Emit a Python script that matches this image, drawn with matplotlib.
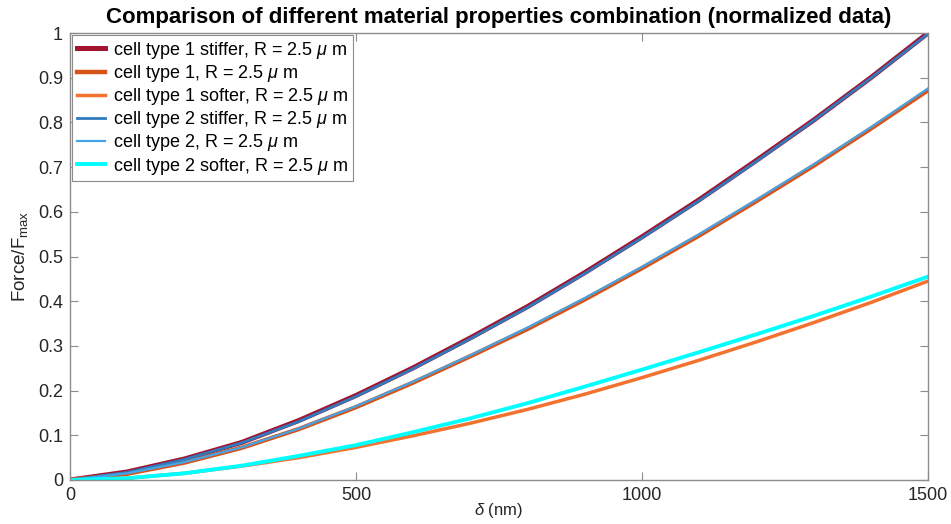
import matplotlib
matplotlib.use("Agg")
import matplotlib.pyplot as plt

plt.rcParams['font.family'] = ['Liberation Sans', 'DejaVu Sans']
plt.rcParams['mathtext.fontset'] = 'custom'
plt.rcParams['mathtext.rm'] = 'Liberation Sans'
plt.rcParams['mathtext.it'] = 'Liberation Sans:italic'
plt.rcParams['mathtext.bf'] = 'Liberation Sans:bold'

# Data
delta_nm = [0, 100, 200, 300, 400, 500, 600, 700, 800, 900, 1000, 1100, 1200, 1300, 1400, 1500]
t1_stiffer = [0, 0.018, 0.047, 0.084, 0.133, 0.189, 0.251, 0.318, 0.388, 0.464, 0.544, 0.627, 0.715, 0.805, 0.900, 1.000]
t1_normal = [0, 0.014, 0.039, 0.072, 0.114, 0.163, 0.218, 0.277, 0.338, 0.404, 0.474, 0.547, 0.624, 0.703, 0.786, 0.872]
t1_softer = [0, 0.004, 0.015, 0.031, 0.050, 0.073, 0.099, 0.127, 0.158, 0.192, 0.229, 0.268, 0.309, 0.352, 0.397, 0.445]
t2_stiffer = [0, 0.017, 0.046, 0.083, 0.131, 0.187, 0.249, 0.316, 0.386, 0.462, 0.542, 0.625, 0.713, 0.804, 0.899, 0.998]
t2_normal = [0, 0.015, 0.040, 0.073, 0.115, 0.165, 0.220, 0.279, 0.341, 0.407, 0.477, 0.550, 0.627, 0.706, 0.789, 0.876]
t2_softer = [0, 0.004, 0.015, 0.032, 0.054, 0.078, 0.107, 0.138, 0.172, 0.209, 0.247, 0.286, 0.326, 0.367, 0.410, 0.455]

labels = [
    r"cell type 1 stiffer, R = 2.5 $\mu$ m",
    r"cell type 1, R = 2.5 $\mu$ m",
    r"cell type 1 softer, R = 2.5 $\mu$ m",
    r"cell type 2 stiffer, R = 2.5 $\mu$ m",
    r"cell type 2, R = 2.5 $\mu$ m",
    r"cell type 2 softer, R = 2.5 $\mu$ m",
]
x_ticks = [0, 500, 1000, 1500]
y_ticks = [0, 0.1, 0.2, 0.3, 0.4, 0.5, 0.6, 0.7, 0.8, 0.9, 1]
y_tick_labels = ["0", "0.1", "0.2", "0.3", "0.4", "0.5", "0.6", "0.7", "0.8", "0.9", "1"]

series = [t1_stiffer, t1_normal, t1_softer, t2_stiffer, t2_normal, t2_softer]
colors = ['#A2142F', '#D95319', '#F4722F', '#2F7BBE', '#45A4E6', '#00FFFF']
widths = [3.6, 3.2, 2.5, 2.0, 1.6, 2.8]

fig = plt.figure(figsize=(9.51, 5.24), dpi=100)
ax = fig.add_axes([70/951, 44/524, 858/951, 447/524])

for y, c, w, lab in zip(series, colors, widths, labels):
    ax.plot(delta_nm, y, color=c, lw=w, label=lab, solid_joinstyle='round')

ax.set_xlim(0, 1500)
ax.set_ylim(0, 1)
ax.set_xticks(x_ticks)
ax.set_yticks(y_ticks)
ax.set_yticklabels(y_tick_labels)

axis_col = '#8c8c8c'
text_col = '#262626'
for s in ax.spines.values():
    s.set_color(axis_col)
    s.set_linewidth(1.0)
ax.tick_params(direction='in', length=6, width=0.8, color=axis_col,
               labelcolor=text_col, labelsize=13, top=True, right=True, pad=5)

ax.set_xlabel(r"$\delta$ (nm)", fontsize=12, color=text_col, labelpad=-2)
ax.set_ylabel(r"Force/F$_{\mathrm{max}}$", fontsize=13.5, color=text_col, labelpad=6)
ax.set_title("Comparison of different material properties combination (normalized data)",
             fontsize=16, fontweight='bold', color='black', pad=7)

leg = ax.legend(loc='upper left', fontsize=13, frameon=True, fancybox=False,
                framealpha=1, edgecolor=axis_col, handlelength=1.55,
                handletextpad=0.45, borderaxespad=0.12, labelspacing=0.12,
                borderpad=0.25)
leg.get_frame().set_linewidth(0.8)
for t in leg.get_texts():
    t.set_color('black')

fig.savefig("out.png", dpi=100)
